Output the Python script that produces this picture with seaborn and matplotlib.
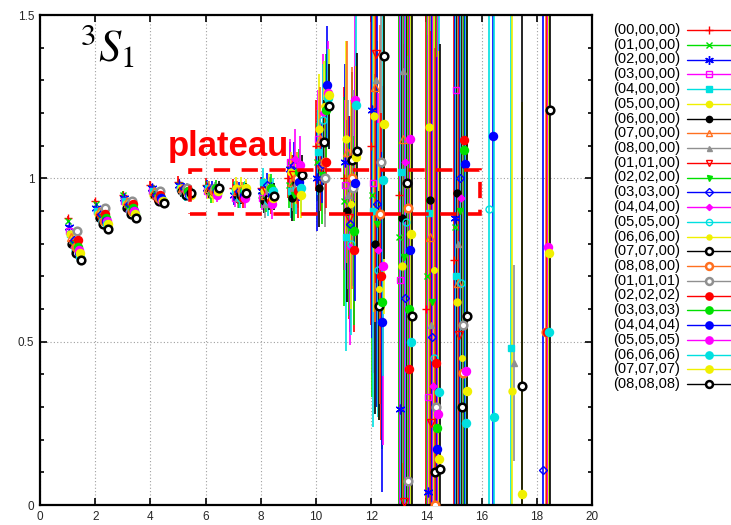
import numpy as np
import matplotlib
matplotlib.use("Agg")
import matplotlib.pyplot as plt
from matplotlib.lines import Line2D
from matplotlib.patches import Rectangle
from matplotlib.ticker import MultipleLocator, FuncFormatter
import seaborn as sns

nan = np.nan

# time slices
t = [1, 2, 3, 4, 5, 6, 7, 8, 9, 10, 11, 12, 13, 14, 15, 16, 17, 18]

labels = ["(00,00,00)", "(01,00,00)", "(02,00,00)", "(03,00,00)", "(04,00,00)",
          "(05,00,00)", "(06,00,00)", "(07,00,00)", "(08,00,00)", "(01,01,00)",
          "(02,02,00)", "(03,03,00)", "(04,04,00)", "(05,05,00)", "(06,06,00)",
          "(07,07,00)", "(08,08,00)", "(01,01,01)", "(02,02,02)", "(03,03,03)",
          "(04,04,04)", "(05,05,05)", "(06,06,06)", "(07,07,07)", "(08,08,08)"]

# effective values per momentum
v00 = [0.88, 0.93, 0.95, 0.98, 0.99, 0.98, 0.97, 0.97, 1.00, 1.10, 1.00, 1.10, 0.95, 0.60, 0.75, nan, nan, nan]
v01 = [0.87, 0.92, 0.95, 0.97, 0.98, 0.97, 0.96, 0.95, 0.98, 1.05, 0.93, 0.95, 0.82, 0.70, 0.85, nan, nan, nan]
v02 = [0.85, 0.91, 0.94, 0.97, 0.98, 0.97, 0.95, 0.96, 1.03, 1.00, 1.05, 1.21, 0.295, 0.04, 0.88, nan, nan, nan]
v03 = [0.84, 0.90, 0.93, 0.96, 0.97, 0.96, 0.94, 0.94, 1.05, 1.12, 0.98, 0.985, 0.69, 0.33, 1.27, nan, nan, nan]
v04 = [0.83, 0.90, 0.93, 0.96, 0.97, 0.97, 0.96, 0.99, 0.96, 1.08, 0.82, 0.90, 1.02, 0.895, 0.70, nan, 0.48, nan]
v05 = [0.83, 0.89, 0.92, 0.95, 0.97, 0.96, 0.97, 0.96, 1.02, 1.15, 1.12, 1.19, 0.733, 1.157, 0.62, nan, 0.35, nan]
v06 = [0.80, 0.88, 0.91, 0.95, 0.96, 0.96, 0.95, 0.93, 0.94, 0.97, 0.90, 0.80, 0.88, 0.935, 0.955, nan, nan, nan]
v07 = [0.82, 0.90, 0.93, 0.96, 0.97, 0.97, 0.96, 0.95, 0.99, 1.12, 1.08, 1.28, 1.12, 0.82, 0.68, nan, nan, nan]
v08 = [0.81, 0.89, 0.92, 0.95, 0.96, 0.96, 0.94, 0.92, 0.97, 1.04, 0.95, 1.30, 1.33, 0.55, 0.80, nan, 0.435, nan]
v09 = [0.80, 0.88, 0.91, 0.94, 0.96, 0.96, 0.95, 0.96, 1.01, 1.03, 0.88, 1.38, 0.01, 0.25, 0.52, nan, nan, nan]
v10 = [0.80, 0.88, 0.91, 0.95, 0.96, 0.95, 0.94, 0.94, 0.95, 1.01, 0.85, 0.86, 0.76, 0.62, 0.90, nan, nan, nan]
v11 = [0.81, 0.89, 0.92, 0.95, 0.97, 0.97, 0.96, 0.98, 1.04, 1.045, 0.86, 0.92, 0.635, 0.515, 1.00, nan, nan, 0.107]
v12 = [0.79, 0.87, 0.90, 0.94, 0.96, 0.96, 0.95, 0.95, 1.06, 1.20, 0.79, 0.78, 1.05, 0.365, 0.94, nan, nan, nan]
v13 = [0.78, 0.87, 0.90, 0.94, 0.95, 0.96, 0.94, 0.93, 0.97, 1.18, 0.80, 0.72, 0.865, 0.45, 0.68, 0.905, nan, nan]
v14 = [0.78, 0.86, 0.90, 0.93, 0.95, 0.95, 0.97, 0.97, 0.99, 1.22, 0.92, 0.66, 0.98, 0.72, 0.45, nan, nan, nan]
v15 = [0.77, 0.86, 0.89, 0.93, 0.95, 0.96, 0.95, 0.94, 0.985, 1.11, 1.055, 0.61, 0.985, 0.10, 0.30, nan, nan, nan]
v16 = [0.79, 0.87, 0.90, 0.94, 0.96, 0.96, 0.96, 0.96, 1.00, 1.05, 1.00, 0.89, 0.91, 0.0, 0.405, nan, nan, 0.53]
v17 = [0.84, 0.91, 0.93, 0.96, 0.97, 0.97, 0.95, 0.96, 0.98, 1.00, 0.97, 1.05, 0.075, 0.30, 0.55, nan, nan, nan]
v18 = [0.81, 0.89, 0.92, 0.95, 0.96, 0.96, 0.94, 0.93, 0.96, 1.05, 0.78, 0.70, 0.417, 0.435, 1.117, nan, nan, 0.53]
v19 = [0.79, 0.88, 0.91, 0.94, 0.96, 0.97, 0.96, 0.97, 1.02, 1.21, 0.84, 0.62, 0.60, 0.237, 1.086, nan, nan, nan]
v20 = [0.77, 0.87, 0.90, 0.94, 0.95, 0.96, 0.95, 0.95, 0.99, 1.285, 0.985, 0.56, 0.78, 0.17, 1.045, 1.13, nan, nan]
v21 = [0.78, 0.87, 0.90, 0.93, 0.95, 0.95, 0.94, 0.92, 1.04, 1.26, 1.24, 0.733, 1.12, 0.28, 0.41, nan, nan, 0.79]
v22 = [0.76, 0.86, 0.89, 0.93, 0.95, 0.96, 0.96, 0.96, 0.97, 1.245, 1.225, 0.995, 0.50, 0.345, 0.25, 0.27, nan, 0.53]
v23 = [0.77, 0.86, 0.89, 0.93, 0.95, 0.96, 0.97, 0.94, 0.95, 1.255, 1.065, 1.165, 0.83, 0.14, 0.35, nan, 0.035, 0.77]
v24 = [0.75, 0.845, 0.88, 0.925, 0.955, 0.97, 0.955, 0.945, 1.01, 1.22, 1.083, 1.374, 0.58, 0.11, 0.58, nan, 0.365, 1.21]

# statistical errors per momentum
e00 = [0.006, 0.008, 0.010, 0.012, 0.016, 0.020, 0.028, 0.035, 0.06, 0.14, 0.28, 0.55, 1.10, 1.30, 1.40, 0, 0, 0]
e01 = [0.007, 0.009, 0.011, 0.013, 0.017, 0.022, 0.030, 0.040, 0.07, 0.12, 0.32, 0.62, 1.20, 1.10, 1.50, 0, 0, 0]
e02 = [0.006, 0.009, 0.012, 0.014, 0.018, 0.024, 0.032, 0.045, 0.08, 0.16, 0.30, 0.70, 1.30, 1.40, 1.20, 0, 0, 0]
e03 = [0.007, 0.008, 0.010, 0.013, 0.017, 0.021, 0.029, 0.038, 0.07, 0.15, 0.26, 0.58, 1.25, 1.20, 1.30, 0, 0, 0]
e04 = [0.006, 0.009, 0.011, 0.012, 0.016, 0.023, 0.031, 0.042, 0.08, 0.13, 0.35, 0.66, 1.15, 1.35, 1.25, 0, 1.60, 0]
e05 = [0.007, 0.010, 0.012, 0.014, 0.018, 0.024, 0.033, 0.040, 0.06, 0.17, 0.30, 0.60, 1.30, 1.20, 1.40, 0, 1.50, 0]
e06 = [0.006, 0.008, 0.011, 0.013, 0.016, 0.020, 0.027, 0.036, 0.07, 0.12, 0.28, 0.52, 1.20, 1.30, 1.20, 0, 0, 0]
e07 = [0.007, 0.009, 0.011, 0.014, 0.018, 0.023, 0.031, 0.044, 0.08, 0.16, 0.34, 0.72, 1.35, 1.25, 1.30, 0, 0, 0]
e08 = [0.006, 0.008, 0.010, 0.012, 0.017, 0.022, 0.030, 0.041, 0.07, 0.14, 0.29, 0.64, 1.20, 1.30, 1.40, 0, 0.30, 0]
e09 = [0.007, 0.009, 0.012, 0.013, 0.016, 0.021, 0.028, 0.039, 0.06, 0.13, 0.31, 0.70, 1.40, 1.20, 1.50, 0, 0, 0]
e10 = [0.006, 0.008, 0.011, 0.014, 0.018, 0.024, 0.032, 0.043, 0.08, 0.15, 0.27, 0.56, 1.15, 1.30, 1.30, 0, 0, 0]
e11 = [0.007, 0.009, 0.010, 0.012, 0.017, 0.022, 0.029, 0.037, 0.07, 0.12, 0.33, 0.62, 1.30, 1.40, 1.25, 0, 0, 1.60]
e12 = [0.006, 0.010, 0.012, 0.013, 0.016, 0.020, 0.027, 0.040, 0.09, 0.18, 0.30, 0.48, 1.25, 1.20, 1.35, 0, 0, 0]
e13 = [0.007, 0.008, 0.011, 0.014, 0.018, 0.023, 0.031, 0.046, 0.08, 0.17, 0.28, 0.45, 1.20, 1.30, 1.20, 1.60, 0, 0]
e14 = [0.006, 0.009, 0.012, 0.012, 0.017, 0.024, 0.033, 0.042, 0.07, 0.14, 0.32, 0.40, 1.30, 1.25, 1.40, 0, 0, 0]
e15 = [0.007, 0.008, 0.010, 0.013, 0.016, 0.021, 0.030, 0.038, 0.06, 0.13, 0.27, 0.35, 1.35, 1.30, 1.30, 0, 0, 0]
e16 = [0.006, 0.009, 0.011, 0.014, 0.018, 0.022, 0.028, 0.041, 0.08, 0.16, 0.34, 0.58, 1.20, 1.40, 1.50, 0, 0, 1.60]
e17 = [0.007, 0.010, 0.012, 0.012, 0.017, 0.020, 0.029, 0.044, 0.07, 0.15, 0.30, 0.62, 1.30, 1.20, 1.25, 0, 0, 0]
e18 = [0.006, 0.008, 0.011, 0.013, 0.016, 0.023, 0.032, 0.039, 0.08, 0.14, 0.25, 0.50, 1.25, 1.30, 1.40, 0, 0, 1.50]
e19 = [0.007, 0.009, 0.010, 0.014, 0.018, 0.024, 0.030, 0.043, 0.07, 0.17, 0.29, 0.45, 1.30, 1.35, 1.30, 0, 0, 0]
e20 = [0.006, 0.008, 0.012, 0.013, 0.017, 0.021, 0.027, 0.040, 0.06, 0.18, 0.36, 0.52, 1.20, 1.20, 1.40, 1.60, 0, 0]
e21 = [0.007, 0.009, 0.011, 0.012, 0.016, 0.022, 0.031, 0.045, 0.09, 0.16, 0.31, 0.55, 1.35, 1.30, 1.20, 0, 0, 1.60]
e22 = [0.006, 0.010, 0.012, 0.014, 0.018, 0.024, 0.033, 0.042, 0.08, 0.15, 0.33, 0.60, 1.25, 1.40, 1.30, 1.60, 0, 1.20]
e23 = [0.007, 0.008, 0.010, 0.013, 0.017, 0.020, 0.028, 0.038, 0.07, 0.14, 0.28, 0.58, 1.30, 1.25, 1.35, 0, 1.20, 0.90]
e24 = [0.006, 0.009, 0.011, 0.012, 0.016, 0.023, 0.030, 0.041, 0.06, 0.13, 0.30, 0.62, 1.40, 1.30, 1.30, 0, 1.60, 1.50]

values = [v00, v01, v02, v03, v04, v05, v06, v07, v08, v09, v10, v11, v12,
          v13, v14, v15, v16, v17, v18, v19, v20, v21, v22, v23, v24]
errors = [e00, e01, e02, e03, e04, e05, e06, e07, e08, e09, e10, e11, e12,
          e13, e14, e15, e16, e17, e18, e19, e20, e21, e22, e23, e24]

# gnuplot-like line colours and point types
palette = ["#ff0000", "#00e000", "#0000ff", "#ff00ff", "#00e0e0", "#f0f000",
           "#000000", "#ff7020", "#909090"]
point_styles = [
    dict(marker="+", ms=6, mfc="none"),
    dict(marker="x", ms=5, mfc="none"),
    dict(marker=(6, 2, 0), ms=7, mfc="none"),
    dict(marker="s", ms=5, mfc="none"),
    dict(marker="s", ms=4.5),
    dict(marker="o", ms=5),
    dict(marker="o", ms=5),
    dict(marker="^", ms=5.5, mfc="none"),
    dict(marker="^", ms=4),
    dict(marker="v", ms=5.5, mfc="none"),
    dict(marker="v", ms=4),
    dict(marker="D", ms=4.5, mfc="none"),
    dict(marker="D", ms=3.5),
    dict(marker="o", ms=5, mfc="none"),
    dict(marker="o", ms=4),
    dict(marker="o", ms=5.5, mfc="white", mew=1.8),
    dict(marker="o", ms=5.5, mfc="white", mew=1.8),
    dict(marker="o", ms=5.5, mfc="white", mew=1.8),
    dict(marker="o", ms=5.5, mew=1.3),
    dict(marker="o", ms=5.5, mew=1.3),
    dict(marker="o", ms=5.5, mew=1.3),
    dict(marker="o", ms=5.5, mew=1.3),
    dict(marker="o", ms=5.5, mew=1.3),
    dict(marker="o", ms=5.5, mew=1.3),
    dict(marker="o", ms=5.5, mfc="white", mew=1.8),
]

sns.set_style("ticks")
plt.rcParams["font.family"] = ["Liberation Sans", "DejaVu Sans"]
plt.rcParams["mathtext.fontset"] = "stix"

W, H = 731, 525
fig = plt.figure(figsize=(W / 100, H / 100), dpi=100)
ax = fig.add_axes([40 / W, 20 / H, 552 / W, 490 / H])

x0 = np.array(t, dtype=float)
for i, (yv, ye) in enumerate(zip(values, errors)):
    col = palette[i % 9]
    st = dict(point_styles[i])
    st.setdefault("mfc", col)
    st.setdefault("mew", 1.0)
    xs = x0 + 0.02 * i
    ax.errorbar(xs, yv, yerr=ye, fmt="none", ecolor=col, elinewidth=1.2,
                capsize=0, zorder=2 + i * 0.01)
    ax.plot(xs, yv, linestyle="none", color=col, mec=col, zorder=3 + i * 0.01,
            **st)

ax.set_xlim(0, 20)
ax.set_ylim(0, 1.5)
ax.xaxis.set_major_locator(MultipleLocator(2))
ax.yaxis.set_major_locator(MultipleLocator(0.5))
ax.yaxis.set_minor_locator(MultipleLocator(0.1))
ax.yaxis.set_major_formatter(FuncFormatter(lambda v, p: "%g" % round(v, 2)))
ax.tick_params(which="both", direction="in", top=True, right=True,
               labelsize=8.5, pad=4, width=1.2, color="black")
ax.tick_params(which="major", length=5)
ax.tick_params(which="minor", length=3)
for s in ax.spines.values():
    s.set_linewidth(1.6)
    s.set_color("black")
ax.grid(True, which="major", color="#a0a0a0", linestyle=(0, (1, 2)), lw=0.8)
ax.set_axisbelow(True)

# channel label
ax.text(1.45, 1.475, r"$^{3}S_{1}$", fontsize=32, ha="left", va="top",
        color="black", zorder=10)

# plateau window
ax.add_patch(Rectangle((5.43, 0.891), 15.94 - 5.43, 1.026 - 0.891,
                       fill=False, edgecolor="#ff0000", lw=2.6,
                       linestyle=(0, (4.5, 3.2)), zorder=9))
ax.text(6.81, 1.096, "plateau", color="#ff0000", fontsize=25,
        fontweight="bold", ha="center", va="center", zorder=10)

# key: label on the left, line sample with point on the right
row0, dy = 30.0, 14.75
for i, lab in enumerate(labels):
    col = palette[i % 9]
    st = dict(point_styles[i])
    st.setdefault("mfc", col)
    st.setdefault("mew", 1.0)
    st["ms"] = st["ms"] * 0.9
    yf = 1 - (row0 + dy * i) / H
    fig.text(680 / W, yf, lab, ha="right", va="center", fontsize=10.5,
             color="black")
    fig.add_artist(Line2D([687 / W, 731 / W], [yf, yf], color=col, lw=1.0,
                          transform=fig.transFigure))
    fig.add_artist(Line2D([709 / W], [yf], color=col, mec=col,
                          linestyle="none", transform=fig.transFigure, **st))

fig.savefig("out.png", dpi=100)
